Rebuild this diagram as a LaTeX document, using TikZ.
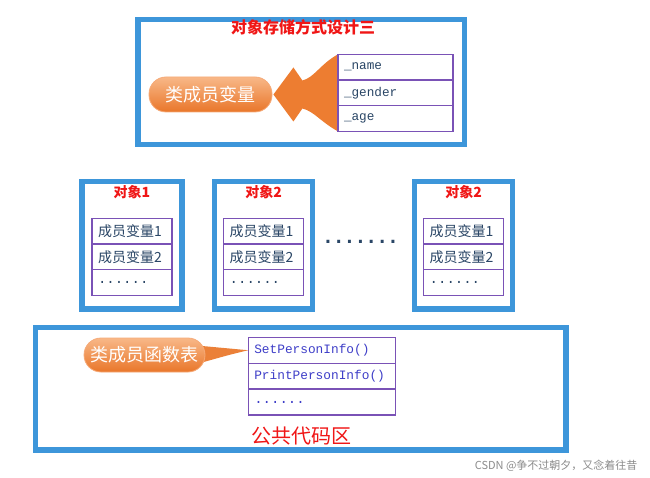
\documentclass[tikz,border=0pt]{standalone}
\usepackage{fontspec}
\newfontfamily\cjk{Noto Sans CJK SC}
\newfontfamily\dotfont{DejaVu Sans Mono}
\setmonofont{Liberation Mono}
\usetikzlibrary{shapes,backgrounds,positioning,calc}

\definecolor{frameblue}{RGB}{61,150,218}
\definecolor{rowpurple}{RGB}{122,82,182}
\definecolor{memtext}{RGB}{42,70,102}
\definecolor{functext}{RGB}{62,62,200}
\definecolor{titlered}{RGB}{240,22,22}
\definecolor{arrowfill}{RGB}{237,125,49}
\definecolor{pilltop}{RGB}{248,184,136}
\definecolor{pillbot}{RGB}{233,118,42}
\definecolor{pilledge}{RGB}{246,170,120}

\begin{document}
\begin{tikzpicture}[x=1pt,y=1pt]
  \tikzstyle{frame}=[rectangle,draw=frameblue,line width=5.5pt,inner sep=0pt,outer sep=0pt]
  \tikzstyle{title}=[text=titlered,font=\cjk\bfseries\fontsize{14}{16}\selectfont]
  \tikzstyle{row}=[rectangle,draw=rowpurple,line width=1.3pt,outer sep=0pt,inner xsep=6pt,inner ysep=0pt,minimum height=25.7pt,align=left,text=memtext]
  \tikzstyle{member}=[row,text width=68pt,font=\cjk\fontsize{14}{16}\selectfont]
  \tikzstyle{field}=[row,text width=103pt,font=\ttfamily\fontsize{12.7}{14}\selectfont]
  \tikzstyle{method}=[row,text width=135.4pt,minimum height=25.9pt,text=functext,font=\ttfamily\fontsize{12.8}{14}\selectfont]
  \tikzstyle{pill}=[rectangle,rounded corners=17pt,top color=pilltop,bottom color=pillbot,draw=pilledge,line width=0.8pt,text=white,font=\cjk\fontsize{18}{20}\selectfont]

  \useasboundingbox (0,0) rectangle (650,477);

  \begin{scope}
    % storage of the class
    \node [frame,minimum width=326.5pt,minimum height=125pt] (store) at (301.25,395) {};
    \node [title,font=\cjk\bfseries\fontsize{16}{18}\selectfont] (head) at (303,450) {对象存储方式设计三};
    \node [field,anchor=north west] (name) at (338,422.7) {\_name};
    \node [field] (gender) [below = 0pt of name] {\_gender};
    \node [field] (age) [below = 0pt of gender] {\_age};
    \node [pill,minimum width=123pt,minimum height=35pt] (varpill) at (210.5,382.5) {类成员变量};
  \end{scope}

  \begin{scope}
    % the objects
    \node [frame,minimum width=100pt,minimum height=127.5pt] (obj1) at (132,231.75) {};
    \node [title] (t1) [below = 0pt of obj1.north] {对象1};
    \node [member] (a1) [below = 36.8pt of obj1.north] {成员变量1};
    \node [member] (a2) [below = 0pt of a1] {成员变量2};
    \node [member] (a3) [below = 0pt of a2] {{\ttfamily ......}};

    \node [frame,minimum width=98pt,minimum height=127.5pt] (obj2) at (263.7,231.75) {};
    \node [title] (t2) [below = 0pt of obj2.north] {对象2};
    \node [member] (b1) [below = 36.8pt of obj2.north] {成员变量1};
    \node [member] (b2) [below = 0pt of b1] {成员变量2};
    \node [member] (b3) [below = 0pt of b2] {{\ttfamily ......}};

    \node [frame,minimum width=98pt,minimum height=127.5pt] (obj3) at (463.7,231.75) {};
    \node [title] (t3) [below = 0pt of obj3.north] {对象2};
    \node [member] (c1) [below = 36.8pt of obj3.north] {成员变量1};
    \node [member] (c2) [below = 0pt of c1] {成员变量2};
    \node [member] (c3) [below = 0pt of c2] {{\ttfamily ......}};

    \node [text=memtext,font=\dotfont\bfseries\fontsize{18}{20}\selectfont] (dots) at (360.5,235) {.......};
  \end{scope}

  \begin{scope}
    % shared code
    \node [frame,minimum width=530.5pt,minimum height=122.5pt] (code) at (300.75,88.25) {};
    \node [method,anchor=north west] (set) at (248.3,139.7) {SetPersonInfo()};
    \node [method] (print) [below = 0pt of set] {PrintPersonInfo()};
    \node [method] (more) [below = 0pt of print] {{\fontsize{14}{16}\selectfont ......}};
    \node [pill,minimum width=121pt,minimum height=34pt] (funcpill) at (144.5,122) {类成员函数表};
    \node [text=titlered,font=\cjk\fontsize{20}{22}\selectfont] (area) at (301,41) {公共代码区};
  \end{scope}

  \node [text=black!45,font=\cjk\fontsize{11}{13}\selectfont,anchor=east] (mark) at (641,11) {CSDN @争不过朝夕，又念着往昔};

  \begin{pgfonlayer}{background}
    \fill [white] (0,0) rectangle (650,477);
    \fill [arrowfill] (name.north west) .. controls +(-18,-10) and +(12,3) .. ($(varpill.east)+(30,14)$)
      -- ++(-9,13) -- ([xshift=1pt]varpill.east) -- ($(varpill.east)+(21,-27)$) -- ++(9,13)
      .. controls +(12,-3) and +(-18,10) .. (age.south west) -- cycle;
    \fill [pillbot!85!pilltop] ($(funcpill.east)+(-14,10)$) -- (set.west)
      .. controls +(-18,-4) and +(14,4) .. ($(funcpill.east)+(-12,-10)$) -- cycle;
  \end{pgfonlayer}
\end{tikzpicture}
\end{document}
